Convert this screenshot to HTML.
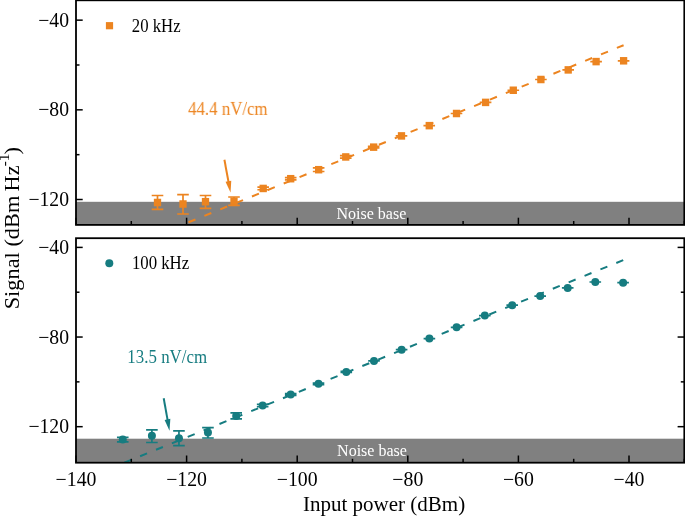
<!DOCTYPE html><html><head><meta charset="utf-8"><style>html,body{margin:0;padding:0;background:#fff;overflow:hidden}svg{display:block;will-change:transform}text{font-family:"Liberation Serif",serif}</style></head><body>
<svg width="685" height="516" viewBox="0 0 685 516">
<clipPath id="c0"><rect x="76.0" y="0.3" width="608.3" height="224.6"/></clipPath>
<rect x="76.0" y="201.8" width="608.3" height="23.099999999999994" fill="#808080"/>
<text transform="translate(336.38 218.90) scale(0.917 1)" font-size="17.5" fill="#fff">Noise base</text>
<g clip-path="url(#c0)"><line x1="188.50" y1="222.29" x2="623.60" y2="45.20" stroke="#EC8420" stroke-width="2" stroke-dasharray="7.5 9.63"/></g>
<path d="M151.70 195.50H163.30M151.70 209.30H163.30M157.50 195.50V209.30" stroke="#EC8420" stroke-width="1.7" fill="none"/>
<rect x="153.85" y="198.75" width="7.3" height="7.5" fill="#EC8420"/>
<path d="M177.20 194.60H188.80M177.20 214.00H188.80M183.00 194.60V214.00" stroke="#EC8420" stroke-width="1.7" fill="none"/>
<rect x="179.35" y="200.25" width="7.3" height="7.5" fill="#EC8420"/>
<path d="M199.70 195.50H211.30M199.70 208.30H211.30M205.50 195.50V208.30" stroke="#EC8420" stroke-width="1.7" fill="none"/>
<rect x="201.85" y="197.95" width="7.3" height="7.5" fill="#EC8420"/>
<path d="M228.20 197.00H239.80M228.20 205.35H239.80M234.00 197.00V205.35" stroke="#EC8420" stroke-width="1.7" fill="none"/>
<rect x="230.35" y="197.45" width="7.3" height="7.5" fill="#EC8420"/>
<path d="M257.40 187.15H269.00M257.40 189.75H269.00M263.20 187.15V189.75" stroke="#EC8420" stroke-width="1.7" fill="none"/>
<rect x="259.55" y="184.70" width="7.3" height="7.5" fill="#EC8420"/>
<path d="M284.90 177.60H296.50M284.90 179.80H296.50M290.70 177.60V179.80" stroke="#EC8420" stroke-width="1.7" fill="none"/>
<rect x="287.05" y="174.95" width="7.3" height="7.5" fill="#EC8420"/>
<path d="M312.85 167.90H324.45M312.85 171.50H324.45M318.65 167.90V171.50" stroke="#EC8420" stroke-width="1.7" fill="none"/>
<rect x="315.00" y="165.95" width="7.3" height="7.5" fill="#EC8420"/>
<path d="M339.95 155.70H351.55M339.95 158.20H351.55M345.75 155.70V158.20" stroke="#EC8420" stroke-width="1.7" fill="none"/>
<rect x="342.10" y="153.20" width="7.3" height="7.5" fill="#EC8420"/>
<path d="M367.85 146.30H379.45M367.85 148.00H379.45M373.65 146.30V148.00" stroke="#EC8420" stroke-width="1.7" fill="none"/>
<rect x="370.00" y="143.40" width="7.3" height="7.5" fill="#EC8420"/>
<path d="M395.70 135.90H407.30M395.70 135.90H407.30M401.50 135.90V135.90" stroke="#EC8420" stroke-width="1.7" fill="none"/>
<rect x="397.85" y="132.15" width="7.3" height="7.5" fill="#EC8420"/>
<path d="M423.45 125.65H435.05M423.45 125.65H435.05M429.25 125.65V125.65" stroke="#EC8420" stroke-width="1.7" fill="none"/>
<rect x="425.60" y="121.90" width="7.3" height="7.5" fill="#EC8420"/>
<path d="M450.70 113.50H462.30M450.70 113.50H462.30M456.50 113.50V113.50" stroke="#EC8420" stroke-width="1.7" fill="none"/>
<rect x="452.85" y="109.75" width="7.3" height="7.5" fill="#EC8420"/>
<path d="M479.80 102.40H491.40M479.80 102.40H491.40M485.60 102.40V102.40" stroke="#EC8420" stroke-width="1.7" fill="none"/>
<rect x="481.95" y="98.65" width="7.3" height="7.5" fill="#EC8420"/>
<path d="M507.50 90.25H519.10M507.50 90.25H519.10M513.30 90.25V90.25" stroke="#EC8420" stroke-width="1.7" fill="none"/>
<rect x="509.65" y="86.50" width="7.3" height="7.5" fill="#EC8420"/>
<path d="M535.10 79.50H546.70M535.10 79.50H546.70M540.90 79.50V79.50" stroke="#EC8420" stroke-width="1.7" fill="none"/>
<rect x="537.25" y="75.75" width="7.3" height="7.5" fill="#EC8420"/>
<path d="M562.40 69.90H574.00M562.40 69.90H574.00M568.20 69.90V69.90" stroke="#EC8420" stroke-width="1.7" fill="none"/>
<rect x="564.55" y="66.15" width="7.3" height="7.5" fill="#EC8420"/>
<path d="M590.30 61.60H601.90M590.30 61.60H601.90M596.10 61.60V61.60" stroke="#EC8420" stroke-width="1.7" fill="none"/>
<rect x="592.45" y="57.85" width="7.3" height="7.5" fill="#EC8420"/>
<path d="M617.80 60.80H629.40M617.80 60.80H629.40M623.60 60.80V60.80" stroke="#EC8420" stroke-width="1.7" fill="none"/>
<rect x="619.95" y="57.05" width="7.3" height="7.5" fill="#EC8420"/>
<line x1="224.4" y1="159.7" x2="228.59" y2="182.28" stroke="#EC8420" stroke-width="2"/>
<path d="M230.50 192.60L225.55 181.82L231.25 180.76Z" fill="#EC8420"/>
<text transform="translate(188.10 114.90) scale(0.906 1)" font-size="18.6" fill="#EC8420">44.4 nV/cm</text>
<rect x="105.9" y="22.099999999999998" width="7.2" height="7.2" fill="#EC8420"/>
<text transform="translate(131.80 31.90) scale(0.9 1)" font-size="18.6" fill="#000">20 kHz</text>
<rect x="76.0" y="0.3" width="608.3" height="224.6" fill="none" stroke="#000" stroke-width="1.8"/>
<line x1="76.0" y1="20.15" x2="82.7" y2="20.15" stroke="#000" stroke-width="1.5"/>
<text transform="translate(69.00 26.75) scale(0.96 1)" font-size="20.5" fill="#000" text-anchor="end">&#8722;40</text>
<line x1="76.0" y1="109.83" x2="82.7" y2="109.83" stroke="#000" stroke-width="1.5"/>
<text transform="translate(69.00 116.43) scale(0.96 1)" font-size="20.5" fill="#000" text-anchor="end">&#8722;80</text>
<line x1="76.0" y1="199.51" x2="82.7" y2="199.51" stroke="#000" stroke-width="1.5"/>
<text transform="translate(69.00 206.11) scale(0.96 1)" font-size="20.5" fill="#000" text-anchor="end">&#8722;120</text>
<line x1="76.0" y1="64.99" x2="79.5" y2="64.99" stroke="#000" stroke-width="1.5"/>
<line x1="76.0" y1="154.67" x2="79.5" y2="154.67" stroke="#000" stroke-width="1.5"/>
<line x1="76.00" y1="224.9" x2="76.00" y2="217.70000000000002" stroke="#000" stroke-width="1.5"/>
<line x1="131.30" y1="224.9" x2="131.30" y2="221.0" stroke="#000" stroke-width="1.5"/>
<line x1="186.60" y1="224.9" x2="186.60" y2="217.70000000000002" stroke="#000" stroke-width="1.5"/>
<line x1="241.90" y1="224.9" x2="241.90" y2="221.0" stroke="#000" stroke-width="1.5"/>
<line x1="297.20" y1="224.9" x2="297.20" y2="217.70000000000002" stroke="#000" stroke-width="1.5"/>
<line x1="352.50" y1="224.9" x2="352.50" y2="221.0" stroke="#000" stroke-width="1.5"/>
<line x1="407.80" y1="224.9" x2="407.80" y2="217.70000000000002" stroke="#000" stroke-width="1.5"/>
<line x1="463.10" y1="224.9" x2="463.10" y2="221.0" stroke="#000" stroke-width="1.5"/>
<line x1="518.40" y1="224.9" x2="518.40" y2="217.70000000000002" stroke="#000" stroke-width="1.5"/>
<line x1="573.70" y1="224.9" x2="573.70" y2="221.0" stroke="#000" stroke-width="1.5"/>
<line x1="629.00" y1="224.9" x2="629.00" y2="217.70000000000002" stroke="#000" stroke-width="1.5"/>
<line x1="684.30" y1="224.9" x2="684.30" y2="221.0" stroke="#000" stroke-width="1.5"/>
<clipPath id="c238"><rect x="76.0" y="238.2" width="608.3" height="224.5"/></clipPath>
<rect x="76.0" y="438.7" width="608.3" height="24.0" fill="#808080"/>
<text transform="translate(337.08 456.40) scale(0.916 1)" font-size="17.5" fill="#fff">Noise base</text>
<g clip-path="url(#c238)"><line x1="108.36" y1="469.10" x2="623.40" y2="260.10" stroke="#167C80" stroke-width="2" stroke-dasharray="7.5 9.63"/></g>
<path d="M116.95 437.30H128.55M116.95 441.85H128.55M122.75 437.30V441.85" stroke="#167C80" stroke-width="1.7" fill="none"/>
<circle cx="122.75" cy="439.60" r="4" fill="#167C80"/>
<path d="M146.10 429.90H157.70M146.10 442.50H157.70M151.90 429.90V442.50" stroke="#167C80" stroke-width="1.7" fill="none"/>
<circle cx="151.90" cy="435.70" r="4" fill="#167C80"/>
<path d="M173.15 430.80H184.75M173.15 445.70H184.75M178.95 430.80V445.70" stroke="#167C80" stroke-width="1.7" fill="none"/>
<circle cx="178.95" cy="438.20" r="4" fill="#167C80"/>
<path d="M202.15 427.55H213.75M202.15 438.00H213.75M207.95 427.55V438.00" stroke="#167C80" stroke-width="1.7" fill="none"/>
<circle cx="207.95" cy="432.50" r="4" fill="#167C80"/>
<path d="M230.40 412.90H242.00M230.40 418.90H242.00M236.20 412.90V418.90" stroke="#167C80" stroke-width="1.7" fill="none"/>
<circle cx="236.20" cy="415.90" r="4" fill="#167C80"/>
<path d="M256.85 404.45H268.45M256.85 406.75H268.45M262.65 404.45V406.75" stroke="#167C80" stroke-width="1.7" fill="none"/>
<circle cx="262.65" cy="405.60" r="4" fill="#167C80"/>
<path d="M284.90 393.70H296.50M284.90 395.30H296.50M290.70 393.70V395.30" stroke="#167C80" stroke-width="1.7" fill="none"/>
<circle cx="290.70" cy="394.50" r="4" fill="#167C80"/>
<path d="M312.70 383.00H324.30M312.70 384.60H324.30M318.50 383.00V384.60" stroke="#167C80" stroke-width="1.7" fill="none"/>
<circle cx="318.50" cy="383.80" r="4" fill="#167C80"/>
<path d="M340.50 371.30H352.10M340.50 372.50H352.10M346.30 371.30V372.50" stroke="#167C80" stroke-width="1.7" fill="none"/>
<circle cx="346.30" cy="371.90" r="4" fill="#167C80"/>
<path d="M368.20 360.95H379.80M368.20 360.95H379.80M374.00 360.95V360.95" stroke="#167C80" stroke-width="1.7" fill="none"/>
<circle cx="374.00" cy="360.95" r="4" fill="#167C80"/>
<path d="M395.80 349.70H407.40M395.80 349.70H407.40M401.60 349.70V349.70" stroke="#167C80" stroke-width="1.7" fill="none"/>
<circle cx="401.60" cy="349.70" r="4" fill="#167C80"/>
<path d="M423.60 338.60H435.20M423.60 338.60H435.20M429.40 338.60V338.60" stroke="#167C80" stroke-width="1.7" fill="none"/>
<circle cx="429.40" cy="338.60" r="4" fill="#167C80"/>
<path d="M450.80 327.30H462.40M450.80 327.30H462.40M456.60 327.30V327.30" stroke="#167C80" stroke-width="1.7" fill="none"/>
<circle cx="456.60" cy="327.30" r="4" fill="#167C80"/>
<path d="M479.00 315.60H490.60M479.00 315.60H490.60M484.80 315.60V315.60" stroke="#167C80" stroke-width="1.7" fill="none"/>
<circle cx="484.80" cy="315.60" r="4" fill="#167C80"/>
<path d="M506.40 305.20H518.00M506.40 305.20H518.00M512.20 305.20V305.20" stroke="#167C80" stroke-width="1.7" fill="none"/>
<circle cx="512.20" cy="305.20" r="4" fill="#167C80"/>
<path d="M534.40 296.10H546.00M534.40 296.10H546.00M540.20 296.10V296.10" stroke="#167C80" stroke-width="1.7" fill="none"/>
<circle cx="540.20" cy="296.10" r="4" fill="#167C80"/>
<path d="M561.90 287.90H573.50M561.90 287.90H573.50M567.70 287.90V287.90" stroke="#167C80" stroke-width="1.7" fill="none"/>
<circle cx="567.70" cy="287.90" r="4" fill="#167C80"/>
<path d="M589.50 282.00H601.10M589.50 282.00H601.10M595.30 282.00V282.00" stroke="#167C80" stroke-width="1.7" fill="none"/>
<circle cx="595.30" cy="282.00" r="4" fill="#167C80"/>
<path d="M617.30 282.70H628.90M617.30 282.70H628.90M623.10 282.70V282.70" stroke="#167C80" stroke-width="1.7" fill="none"/>
<circle cx="623.10" cy="282.70" r="4" fill="#167C80"/>
<line x1="163.7" y1="398.2" x2="167.66" y2="420.36" stroke="#167C80" stroke-width="2"/>
<path d="M169.50 430.70L164.62 419.89L170.33 418.87Z" fill="#167C80"/>
<text transform="translate(127.36 362.70) scale(0.918 1)" font-size="18.4" fill="#167C80">13.5 nV/cm</text>
<circle cx="109.3" cy="263.3" r="4" fill="#167C80"/>
<text transform="translate(131.88 268.90) scale(0.912 1)" font-size="18.4" fill="#000">100 kHz</text>
<rect x="76.0" y="238.2" width="608.3" height="224.5" fill="none" stroke="#000" stroke-width="1.8"/>
<line x1="76.0" y1="247.40" x2="82.7" y2="247.40" stroke="#000" stroke-width="1.5"/>
<text transform="translate(69.00 254.00) scale(0.96 1)" font-size="20.5" fill="#000" text-anchor="end">&#8722;40</text>
<line x1="76.0" y1="337.04" x2="82.7" y2="337.04" stroke="#000" stroke-width="1.5"/>
<text transform="translate(69.00 343.64) scale(0.96 1)" font-size="20.5" fill="#000" text-anchor="end">&#8722;80</text>
<line x1="76.0" y1="426.68" x2="82.7" y2="426.68" stroke="#000" stroke-width="1.5"/>
<text transform="translate(69.00 433.28) scale(0.96 1)" font-size="20.5" fill="#000" text-anchor="end">&#8722;120</text>
<line x1="76.0" y1="292.22" x2="79.5" y2="292.22" stroke="#000" stroke-width="1.5"/>
<line x1="76.0" y1="381.86" x2="79.5" y2="381.86" stroke="#000" stroke-width="1.5"/>
<line x1="684.3" y1="247.40" x2="677.5999999999999" y2="247.40" stroke="#000" stroke-width="1.5"/>
<line x1="684.3" y1="292.22" x2="680.8" y2="292.22" stroke="#000" stroke-width="1.5"/>
<line x1="684.3" y1="337.04" x2="677.5999999999999" y2="337.04" stroke="#000" stroke-width="1.5"/>
<line x1="684.3" y1="381.86" x2="680.8" y2="381.86" stroke="#000" stroke-width="1.5"/>
<line x1="684.3" y1="426.68" x2="677.5999999999999" y2="426.68" stroke="#000" stroke-width="1.5"/>
<line x1="76.00" y1="462.7" x2="76.00" y2="455.5" stroke="#000" stroke-width="1.5"/>
<line x1="131.30" y1="462.7" x2="131.30" y2="458.8" stroke="#000" stroke-width="1.5"/>
<line x1="186.60" y1="462.7" x2="186.60" y2="455.5" stroke="#000" stroke-width="1.5"/>
<line x1="241.90" y1="462.7" x2="241.90" y2="458.8" stroke="#000" stroke-width="1.5"/>
<line x1="297.20" y1="462.7" x2="297.20" y2="455.5" stroke="#000" stroke-width="1.5"/>
<line x1="352.50" y1="462.7" x2="352.50" y2="458.8" stroke="#000" stroke-width="1.5"/>
<line x1="407.80" y1="462.7" x2="407.80" y2="455.5" stroke="#000" stroke-width="1.5"/>
<line x1="463.10" y1="462.7" x2="463.10" y2="458.8" stroke="#000" stroke-width="1.5"/>
<line x1="518.40" y1="462.7" x2="518.40" y2="455.5" stroke="#000" stroke-width="1.5"/>
<line x1="573.70" y1="462.7" x2="573.70" y2="458.8" stroke="#000" stroke-width="1.5"/>
<line x1="629.00" y1="462.7" x2="629.00" y2="455.5" stroke="#000" stroke-width="1.5"/>
<line x1="684.30" y1="462.7" x2="684.30" y2="458.8" stroke="#000" stroke-width="1.5"/>
<text transform="translate(76.00 486.30) scale(0.965 1)" font-size="20.5" fill="#000" text-anchor="middle">&#8722;140</text>
<text transform="translate(186.60 486.30) scale(0.965 1)" font-size="20.5" fill="#000" text-anchor="middle">&#8722;120</text>
<text transform="translate(297.20 486.30) scale(0.965 1)" font-size="20.5" fill="#000" text-anchor="middle">&#8722;100</text>
<text transform="translate(407.80 486.30) scale(0.965 1)" font-size="20.5" fill="#000" text-anchor="middle">&#8722;80</text>
<text transform="translate(518.40 486.30) scale(0.965 1)" font-size="20.5" fill="#000" text-anchor="middle">&#8722;60</text>
<text transform="translate(629.00 486.30) scale(0.965 1)" font-size="20.5" fill="#000" text-anchor="middle">&#8722;40</text>
<text x="303.00" y="510.50" font-size="21" fill="#000">Input power (dBm)</text>
<text transform="translate(18.8 309.3) rotate(-90) scale(1.09 1)" font-size="20.5" fill="#000">Signal (dBm <tspan dx="-1.2">Hz</tspan><tspan dx="-0.8" dy="-9.5" font-size="14">-1</tspan><tspan dx="-0.8" dy="9.5">)</tspan></text>
</svg></body></html>
